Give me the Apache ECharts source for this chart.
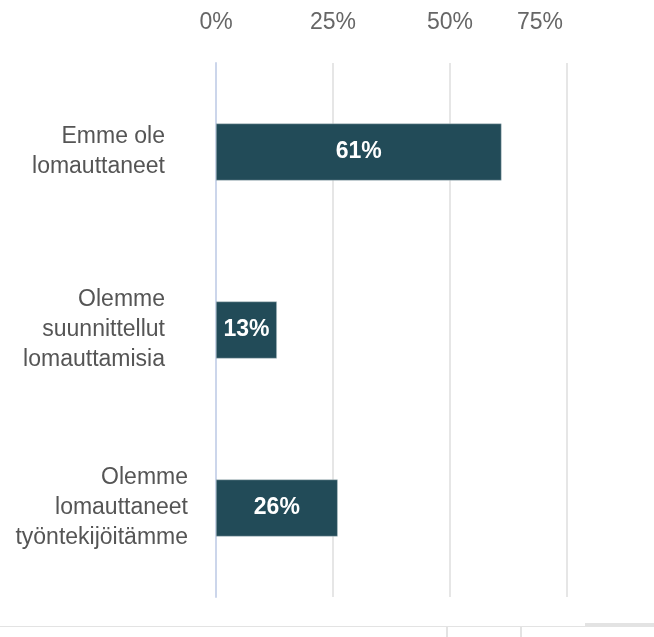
<!DOCTYPE html>
<html>
<head>
<meta charset="utf-8">
<script src="https://cdn.jsdelivr.net/npm/echarts@6/dist/echarts.min.js"></script>
<style>
html, body { margin: 0; padding: 0; background: #fff; }
#chart { width: 654px; height: 637px; }
</style>
</head>
<body>
<div id="chart"></div>
<script>
// 数据
var categories = ['Emme ole\nlomauttaneet', 'Olemme\nsuunnittellut\nlomauttamisia', 'Olemme\nlomauttaneet\ntyöntekijöitämme'];
var values = [61, 13, 26];
var xTicks = [0, 25, 50, 75];

var FONT = 'Liberation Sans, Arial, sans-serif';
var chart = echarts.init(document.getElementById('chart'));

// 前两个标签右侧多留一点空
var labelPad = [23, 23, 0];
var yData = categories.map(function (c, i) {
    return { value: c, textStyle: { padding: [0, labelPad[i], 0, 0] } };
});

var option = {
    animation: false,
    grid: {
        left: 216,
        right: 87,
        top: 63,
        bottom: 40
    },
    xAxis: {
        type: 'value',
        position: 'top',
        min: 0,
        max: xTicks[xTicks.length - 1],
        interval: 25,
        axisLine: { show: false },
        axisTick: { show: false },
        axisLabel: {
            margin: 29,
            color: '#666',
            fontSize: 23,
            fontFamily: FONT,
            alignMaxLabel: 'right',
            formatter: function (v) {
                if (v === xTicks[xTicks.length - 1]) return '{m|' + v + '%}';
                return v + '%';
            },
            rich: {
                m: { color: '#666', fontSize: 23, fontFamily: FONT, padding: [0, 4, 0, 0] }
            }
        },
        splitLine: {
            lineStyle: { color: '#e6e6e6', width: 2 }
        }
    },
    yAxis: {
        type: 'category',
        inverse: true,
        data: yData,
        axisLine: { show: true, lineStyle: { color: '#ccd6eb', width: 2 } },
        axisTick: { show: false },
        axisLabel: {
            margin: 28,
            color: '#555',
            fontSize: 23,
            lineHeight: 30,
            align: 'right',
            fontFamily: FONT
        }
    },
    series: [{
        type: 'bar',
        data: values,
        barWidth: 57,
        itemStyle: {
            color: '#224b58',
            borderColor: '#b9c6ca',
            borderWidth: 0.5
        },
        label: {
            show: true,
            position: 'inside',
            color: '#fff',
            fontSize: 23,
            fontWeight: 'bold',
            fontFamily: FONT,
            formatter: '{c}%'
        }
    }],
    graphic: [
        // 底部的分隔线
        { type: 'rect', shape: { x: 0, y: 626, width: 654, height: 1 }, style: { fill: '#e3e3e3' } },
        { type: 'rect', shape: { x: 585, y: 623, width: 69, height: 3 }, style: { fill: '#e3e3e3' } },
        { type: 'rect', shape: { x: 446, y: 627, width: 2, height: 10 }, style: { fill: '#e3e3e3' } },
        { type: 'rect', shape: { x: 520, y: 627, width: 2, height: 10 }, style: { fill: '#e3e3e3' } }
    ]
};
chart.setOption(option);
</script>
</body>
</html>
